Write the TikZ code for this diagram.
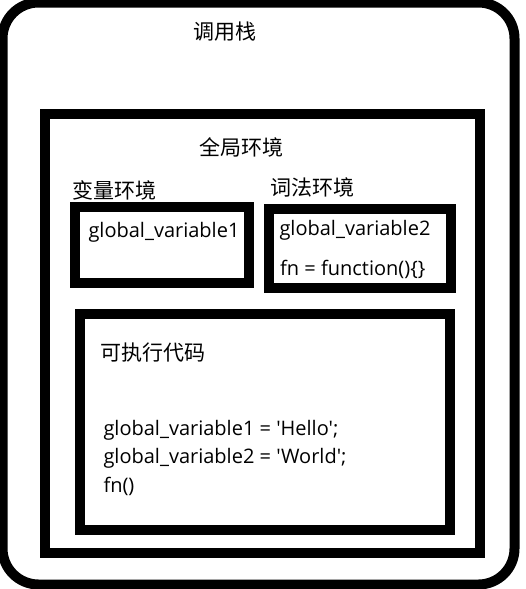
\documentclass[tikz,border=0pt]{standalone}
\usepackage{fontspec}
\newfontfamily\latin{Open Sans}
\newfontfamily\cjk{Noto Sans CJK SC}

\begin{document}
\begin{tikzpicture}[x=1pt, y=-1pt,
		frame/.style={draw, line width=10pt, inner sep=0pt},
		cn/.style={anchor=west, inner sep=0pt, font=\cjk\fontsize{21}{25}\selectfont},
		code/.style={anchor=base west, inner sep=0pt, font=\latin\fontsize{20}{24}\selectfont}]
	\useasboundingbox (0, 0) rectangle (525, 589);
	\node[frame, rounded corners=36pt, minimum width=512pt, minimum height=582pt] (stack) at (258.5, 293.5){};
		\node[cn, anchor=center] (stacklbl) at (225, 32){调用栈};
	\node[frame, minimum width=435pt, minimum height=439pt] (global) at (262.5, 333.5){};
		\node[cn, anchor=center] (globallbl) at (241, 147.5){全局环境};
		\node[cn] (varlbl) at (72, 190){变量环境};
		\node[frame, minimum width=174pt, minimum height=75.5pt] (var) at (162, 244.75){};
			\node[code] (var1) at (88.3, 237){global\_variable1};
		\node[cn] (lexlbl) at (270.7, 187.5){词法环境};
		\node[frame, minimum width=182pt, minimum height=78.5pt] (lex) at (360, 248.25){};
			\node[code] (var2) at (279.3, 235){global\_variable2};
			\node[code] (fn) at (280, 275){fn = function()\{\}};
		\node[frame, minimum width=370pt, minimum height=216pt] (exec) at (265, 422){};
			\node[cn] (execlbl) at (100, 353){可执行代码};
			\node[code] (line1) at (103.3, 435){global\_variable1 = 'Hello';};
			\node[code] (line2) at (103.3, 463){global\_variable2 = 'World';};
			\node[code] (line3) at (103.3, 492){fn()};
\end{tikzpicture}
\end{document}
